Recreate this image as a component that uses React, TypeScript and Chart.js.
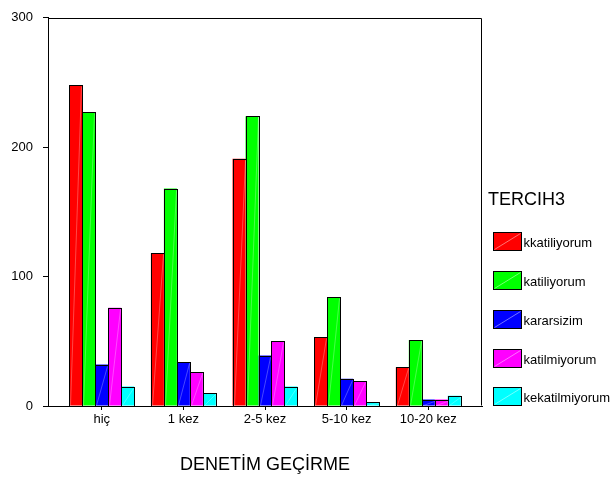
import React, { useEffect, useRef } from "react";
import { Chart, registerables } from "chart.js";

Chart.register(...registerables);

const categories = ["hiç", "1 kez", "2-5 kez", "5-10 kez", "10-20 kez"];
const seriesNames = ["kkatiliyorum", "katiliyorum", "kararsizim", "katilmiyorum", "kekatilmiyorum"];
const kkatiliyorum = [248, 118, 191, 53, 30];
const katiliyorum = [227, 168, 224, 84, 51];
const kararsizim = [32, 34, 39, 21, 5];
const katilmiyorum = [76, 26, 50, 19, 5];
const kekatilmiyorum = [15, 10, 15, 3, 8];
const seriesColors = ["#FF0000", "#00FF00", "#0000FF", "#FF00FF", "#00FFFF"];
const yMax = 300;
const yStep = 100;
const legendTitle = "TERCIH3";
const xTitle = "DENETİM GEÇİRME";

const FONT = "'Liberation Sans', Arial, Helvetica, sans-serif";
// extra empty space (in category units) added at both ends of the x axis
const X_EDGE_EXTRA = 0.158;

const barOutlinePlugin = {
  id: "barOutline",
  afterDatasetsDraw(chart: any) {
    const ctx = chart.ctx;
    ctx.save();
    chart.data.datasets.forEach((_: any, di: number) => {
      const meta = chart.getDatasetMeta(di);
      meta.data.forEach((el: any) => {
        const { x, y, base, width } = el.getProps(["x", "y", "base", "width"], true);
        const l = Math.round(x - width / 2) + 0.5;
        const r = Math.round(x + width / 2) + 0.5;
        const t = Math.round(y) + 0.5;
        const b = Math.round(base) + 0.5;
        ctx.strokeStyle = "rgba(255,255,255,0.28)";
        ctx.lineWidth = 1;
        ctx.beginPath();
        ctx.moveTo(l + 1, b - 1);
        ctx.lineTo(r - 1, t + 1);
        ctx.stroke();
        ctx.strokeStyle = "#000";
        ctx.strokeRect(l, t, r - l, b - t);
      });
    });
    ctx.restore();
  },
};

const framePlugin = {
  id: "frameAndLegend",
  afterDraw(chart: any) {
    const ctx = chart.ctx;
    const a = chart.chartArea;
    ctx.save();
    ctx.strokeStyle = "#000";
    ctx.lineWidth = 1;
    const l = Math.round(a.left) + 0.5;
    const r = Math.round(a.right) - 0.5;
    const t = Math.round(a.top) + 0.5;
    const b = Math.round(a.bottom) - 0.5;
    ctx.beginPath();
    ctx.moveTo(l, t);
    ctx.lineTo(r, t);
    ctx.lineTo(r, b);
    ctx.stroke();

    // legend
    const lx = a.right + 6;
    ctx.fillStyle = "#000";
    ctx.font = `18px ${FONT}`;
    ctx.textBaseline = "alphabetic";
    ctx.textAlign = "left";
    ctx.fillText(legendTitle, lx, 205);
    chart.data.datasets.forEach((ds: any, i: number) => {
      const top = 232 + i * 38.85;
      const sx = Math.round(lx + 5) + 0.5;
      const sy = Math.round(top) + 0.5;
      const w = 28;
      const h = 18;
      ctx.fillStyle = ds.backgroundColor;
      ctx.fillRect(sx, sy, w, h);
      ctx.strokeStyle = "rgba(255,255,255,0.45)";
      ctx.beginPath();
      ctx.moveTo(sx + 1, sy + h - 1);
      ctx.lineTo(sx + w - 1, sy + 1);
      ctx.stroke();
      ctx.strokeStyle = "#000";
      ctx.strokeRect(sx, sy, w, h);
      ctx.fillStyle = "#000";
      ctx.font = `13px ${FONT}`;
      ctx.fillText(ds.label, sx + w + 2, sy + 14);
    });
    ctx.restore();
  },
};

export default function App() {
  const ref = useRef<HTMLCanvasElement | null>(null);

  useEffect(() => {
    if (!ref.current) return;
    const series = [kkatiliyorum, katiliyorum, kararsizim, katilmiyorum, kekatilmiyorum];
    const chart = new Chart(ref.current, {
      type: "bar",
      data: {
        labels: categories,
        datasets: series.map((vals, si) => ({
          label: seriesNames[si],
          data: vals,
          backgroundColor: seriesColors[si],
          borderWidth: 0,
          barPercentage: 1.0,
          categoryPercentage: 0.795,
        })),
      },
      options: {
        animation: false,
        responsive: false,
        devicePixelRatio: 1,
        layout: { padding: { left: 0, right: 131, top: 13, bottom: 0 } },
        plugins: {
          legend: { display: false },
          tooltip: { enabled: false },
          title: { display: false },
        },
        scales: {
          x: {
            type: "category",
            offset: true,
            ticks: {
              autoSkip: false,
              maxRotation: 0,
              color: "#000",
              font: { family: FONT, size: 13 },
              padding: 2,
            },
            grid: { display: true, offset: false, drawOnChartArea: false, drawTicks: true, tickLength: 4, color: "#000" },
            border: { display: true, color: "#000", width: 1 },
            title: {
              display: true,
              text: xTitle,
              color: "#000",
              font: { family: FONT, size: 18 },
              padding: { top: 0, bottom: 2 },
            },
            afterBuildTicks: (s: any) => {
              s._startValue -= X_EDGE_EXTRA;
              s._valueRange += 2 * X_EDGE_EXTRA;
            },
            afterFit: (s: any) => {
              s.height = 72;
            },
          },
          y: {
            min: 0,
            max: yMax,
            ticks: {
              stepSize: yStep,
              color: "#000",
              font: { family: FONT, size: 13 },
              padding: 10,
            },
            grid: { display: true, drawOnChartArea: false, drawTicks: true, tickLength: 5, color: "#000" },
            border: { display: true, color: "#000", width: 1 },
            afterFit: (s: any) => {
              s.width = 48;
            },
          },
        },
      },
      plugins: [barOutlinePlugin, framePlugin],
    } as any);
    return () => chart.destroy();
  }, []);

  return (
    <div style={{ position: "absolute", left: 0, top: 0, width: 613, height: 478, background: "#fff" }}>
      <canvas ref={ref} width={613} height={478} style={{ display: "block" }} />
    </div>
  );
}
